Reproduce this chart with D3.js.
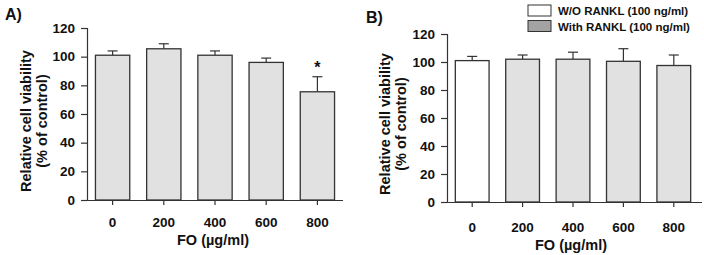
<!doctype html>
<html>
<head>
<meta charset="utf-8">
<script src="https://cdn.jsdelivr.net/npm/d3@7"></script>
<style>
  body { margin: 0; background: #fff; }
  text { font-family: "Liberation Sans", Arial, sans-serif; font-weight: bold; fill: #111; }
</style>
</head>
<body>
<div id="chart"></div>
<script>
// data
var doses = ["0", "200", "400", "600", "800"];
var yTicks = [0, 20, 40, 60, 80, 100, 120];

var meanA = [101, 105.5, 101, 96, 75.5];
var errA  = [3, 3.5, 3, 3, 10.5];
var sigA  = ["", "", "", "", "*"];

var meanB = [101, 102, 102, 100.5, 97.5];
var errB  = [3, 3, 5, 9, 7.5];
var rankl = [false, true, true, true, true];   // bar 0 = W/O RANKL

var legendLabels = ["W/O RANKL (100 ng/ml)", "With RANKL (100 ng/ml)"];
var legendFills = ["#ffffff", "#a3a3a3"];

var barFill = "#e1e1e1";
var ink = "#333";

var svg = d3.select("#chart").append("svg")
    .attr("width", 704)
    .attr("height", 255);

function panel(opt) {
    var g = svg.append("g");

    var x = d3.scaleBand()
        .domain(doses)
        .range([opt.left, opt.right])
        .paddingInner(0.33)
        .paddingOuter(0.165);

    var y = d3.scaleLinear()
        .domain([0, 120])
        .range([opt.bottom, opt.top]);

    // y axis
    var yAxis = g.append("g")
        .attr("transform", "translate(" + opt.left + ",0)")
        .call(d3.axisLeft(y).tickValues(yTicks).tickSize(6).tickPadding(6));
    yAxis.selectAll("text").style("font-size", "13.5px");

    // x axis
    var xAxis = g.append("g")
        .attr("transform", "translate(0," + opt.bottom + ")")
        .call(d3.axisBottom(x).tickSizeOuter(0).tickSize(5).tickPadding(opt.xPad));
    xAxis.select(".domain").attr("d", "M" + opt.left + ",0.5H" + (opt.right + opt.extra));
    xAxis.selectAll("text").style("font-size", "13.5px");

    g.selectAll(".domain, .tick line").attr("stroke", ink).attr("stroke-width", 1.2);

    // error bars (upper only)
    var eb = g.selectAll(".err").data(opt.mean).enter().append("g");
    eb.append("line")
        .attr("x1", function(d, i) { return x(doses[i]) + x.bandwidth() / 2; })
        .attr("x2", function(d, i) { return x(doses[i]) + x.bandwidth() / 2; })
        .attr("y1", function(d) { return y(d); })
        .attr("y2", function(d, i) { return y(d + opt.err[i]); })
        .attr("stroke", ink).attr("stroke-width", 1.2);
    eb.append("line")
        .attr("x1", function(d, i) { return x(doses[i]) + x.bandwidth() / 2 - 5; })
        .attr("x2", function(d, i) { return x(doses[i]) + x.bandwidth() / 2 + 5; })
        .attr("y1", function(d, i) { return y(d + opt.err[i]); })
        .attr("y2", function(d, i) { return y(d + opt.err[i]); })
        .attr("stroke", ink).attr("stroke-width", 1.2);

    // bars
    g.selectAll(".bar").data(opt.mean).enter().append("rect")
        .attr("x", function(d, i) { return x(doses[i]); })
        .attr("y", function(d) { return y(d); })
        .attr("width", x.bandwidth())
        .attr("height", function(d) { return y(0) - y(d); })
        .attr("fill", function(d, i) { return opt.fill(i); })
        .attr("stroke", ink)
        .attr("stroke-width", 1.3);

    // significance marks
    if (opt.sig) {
        g.selectAll(".sig").data(opt.sig).enter().append("text")
            .attr("x", function(d, i) { return x(doses[i]) + x.bandwidth() / 2; })
            .attr("y", function(d, i) { return y(opt.mean[i] + opt.err[i]) - 4; })
            .attr("text-anchor", "middle")
            .style("font-size", "16px")
            .text(function(d) { return d; });
    }

    // axis titles
    var cx = (opt.left + opt.right) / 2;
    g.append("text")
        .attr("x", cx - 2)
        .attr("y", opt.bottom + opt.xTitle)
        .attr("text-anchor", "middle")
        .style("font-size", "14.5px")
        .text("FO (\u00b5g/ml)");

    var yt = g.append("text")
        .attr("transform", "translate(" + opt.yTitleX + "," + opt.yTitleY + ") rotate(-90)")
        .attr("text-anchor", "middle")
        .style("font-size", "14.5px");
    yt.append("tspan").attr("x", 0).attr("y", 0).text("Relative cell viability");
    yt.append("tspan").attr("x", 0).attr("y", 16).text("(% of control)");

    // panel letter
    g.append("text")
        .attr("x", opt.letterX)
        .attr("y", opt.letterY)
        .style("font-size", "16px")
        .text(opt.letter);

    return g;
}

panel({
    left: 87, right: 343, extra: 0, top: 28, bottom: 200,
    mean: meanA, err: errA, sig: sigA,
    fill: function() { return barFill; },
    xPad: 12, xTitle: 45,
    yTitleX: 31, yTitleY: 121,
    letter: "A)", letterX: 5, letterY: 20
});

panel({
    left: 447, right: 699, extra: 3, top: 34, bottom: 202,
    mean: meanB, err: errB, sig: null,
    fill: function(i) { return rankl[i] ? barFill : "#ffffff"; },
    xPad: 15, xTitle: 48,
    yTitleX: 390, yTitleY: 124,
    letter: "B)", letterX: 366, letterY: 23
});

// legend
var leg = svg.append("g").attr("transform", "translate(528,5)");
var li = leg.selectAll(".li").data(legendLabels).enter().append("g")
    .attr("transform", function(d, i) { return "translate(0," + (i * 15.5) + ")"; });
li.append("rect")
    .attr("width", 23).attr("height", 11)
    .attr("fill", function(d, i) { return legendFills[i]; })
    .attr("stroke", ink).attr("stroke-width", 1);
li.append("text")
    .attr("x", 30).attr("y", 10)
    .style("font-size", "11.5px")
    .text(function(d) { return d; });
</script>
</body>
</html>
